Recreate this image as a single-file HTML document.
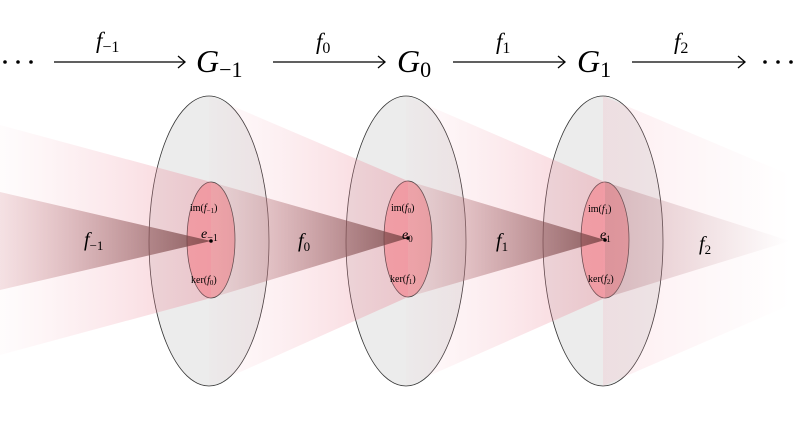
<!DOCTYPE html><html><head><style>body{margin:0;background:#fff}svg{display:block}text{font-family:"Liberation Serif",serif;font-style:italic;fill:#000}.u{font-style:normal}</style></head><body>
<svg width="800" height="448" viewBox="0 0 800 448" xmlns="http://www.w3.org/2000/svg">
<defs>
<linearGradient id="lp" gradientUnits="objectBoundingBox" x1="0" y1="0" x2="1" y2="0"><stop offset="0" stop-color="#f4a0b0" stop-opacity="0.05"/><stop offset="1" stop-color="#e88090" stop-opacity="0.6"/></linearGradient>
<linearGradient id="dk" gradientUnits="objectBoundingBox" x1="0" y1="0" x2="1" y2="0"><stop offset="0" stop-color="#d89098" stop-opacity="0.25"/><stop offset="1" stop-color="#6a3a3a" stop-opacity="0.75"/></linearGradient>
<linearGradient id="lpr" gradientUnits="objectBoundingBox" x1="0" y1="0" x2="1" y2="0"><stop offset="0" stop-color="#f4a0b0" stop-opacity="0.18"/><stop offset="1" stop-color="#f4a0b0" stop-opacity="0"/></linearGradient>
<linearGradient id="dkr" gradientUnits="objectBoundingBox" x1="0" y1="0" x2="1" y2="0"><stop offset="0" stop-color="#b07078" stop-opacity="0.35"/><stop offset="1" stop-color="#b07078" stop-opacity="0"/></linearGradient>
</defs>
<g stroke="#333" stroke-width="0.8">
<ellipse cx="209" cy="241" rx="60" ry="145" fill="#ececec"/>
<ellipse cx="406" cy="241" rx="60" ry="145" fill="#ececec"/>
<ellipse cx="603" cy="241" rx="60" ry="145" fill="#ececec"/>
<ellipse cx="211" cy="240" rx="24" ry="58" fill="#f4aaae"/>
<ellipse cx="408" cy="239" rx="24" ry="58" fill="#f4aaae"/>
<ellipse cx="605" cy="240" rx="24" ry="58" fill="#f4aaae"/>
</g>
<g stroke="none">
<polygon points="0,125 211,182 211,298 0,355" fill="url(#lp)" opacity="0.6"/>
<polygon points="209,96 408,181 408,297 209,386" fill="url(#lp)" opacity="0.6"/>
<polygon points="406,96 605,182 605,298 406,386" fill="url(#lp)" opacity="0.6"/>
<polygon points="603,96 790,175 790,305 603,386" fill="url(#lpr)"/>
<polygon points="0,192 211,241 0,290" fill="url(#dk)"/>
<polygon points="211,182 408,238 211,298" fill="url(#dk)"/>
<polygon points="408,181 605,240 408,297" fill="url(#dk)"/>
<polygon points="605,182 790,241 605,298" fill="url(#dkr)"/>
</g>
<circle cx="211" cy="241" r="1.8"/><circle cx="408" cy="238" r="1.8"/><circle cx="605" cy="240" r="1.8"/>
<g font-size="20"><text x="84" y="246">f<tspan font-size="13" dy="4" class="u">−1</tspan></text>
<text x="298" y="247">f<tspan font-size="13" dy="4" class="u">0</tspan></text>
<text x="496" y="247">f<tspan font-size="13" dy="4" class="u">1</tspan></text>
<text x="699" y="250">f<tspan font-size="13" dy="4" class="u">2</tspan></text></g>
<g font-size="14"><text x="201" y="238">e<tspan font-size="10" dy="3" class="u">−1</tspan></text>
<text x="402" y="239">e<tspan font-size="9" dy="3" class="u">0</tspan></text>
<text x="600" y="239">e<tspan font-size="9" dy="3" class="u">1</tspan></text></g>
<g font-size="10" class="u">
<text x="190" y="211" class="u">im(<tspan font-style="italic">f</tspan><tspan font-size="7" dy="2">−1</tspan><tspan dy="-2">)</tspan></text>
<text x="191" y="283" class="u">ker(<tspan font-style="italic">f</tspan><tspan font-size="7" dy="2">0</tspan><tspan dy="-2">)</tspan></text>
<text x="391" y="211" class="u">im(<tspan font-style="italic">f</tspan><tspan font-size="7" dy="2">0</tspan><tspan dy="-2">)</tspan></text>
<text x="390" y="282" class="u">ker(<tspan font-style="italic">f</tspan><tspan font-size="7" dy="2">1</tspan><tspan dy="-2">)</tspan></text>
<text x="588" y="212" class="u">im(<tspan font-style="italic">f</tspan><tspan font-size="7" dy="2">1</tspan><tspan dy="-2">)</tspan></text>
<text x="588" y="282" class="u">ker(<tspan font-style="italic">f</tspan><tspan font-size="7" dy="2">2</tspan><tspan dy="-2">)</tspan></text>
</g>
<g stroke="#000" stroke-width="1.3" fill="none">
<line x1="54" y1="62" x2="184" y2="62"/><path d="M178,56 L185,62 L178,68"/>
<line x1="273" y1="62" x2="384" y2="62"/><path d="M378,56 L385,62 L378,68"/>
<line x1="453" y1="62" x2="564" y2="62"/><path d="M558,56 L565,62 L558,68"/>
<line x1="632" y1="62" x2="744" y2="62"/><path d="M738,56 L745,62 L738,68"/>
</g>
<g font-size="23"><text x="96" y="48">f<tspan font-size="16" dy="4" class="u">−1</tspan></text>
<text x="316" y="49">f<tspan font-size="16" dy="4" class="u">0</tspan></text>
<text x="496" y="49">f<tspan font-size="16" dy="4" class="u">1</tspan></text>
<text x="674" y="49">f<tspan font-size="16" dy="4" class="u">2</tspan></text></g>
<g font-size="32"><text x="196" y="72">G<tspan font-size="22" dy="5" class="u">−1</tspan></text>
<text x="397" y="72">G<tspan font-size="22" dy="5" class="u">0</tspan></text>
<text x="577" y="72">G<tspan font-size="22" dy="5" class="u">1</tspan></text></g>
<g fill="#000"><circle cx="5" cy="62" r="1.8"/><circle cx="18" cy="62" r="1.8"/><circle cx="31" cy="62" r="1.8"/>
<circle cx="765" cy="62" r="1.8"/><circle cx="778" cy="62" r="1.8"/><circle cx="791" cy="62" r="1.8"/></g>
</svg></body></html>
